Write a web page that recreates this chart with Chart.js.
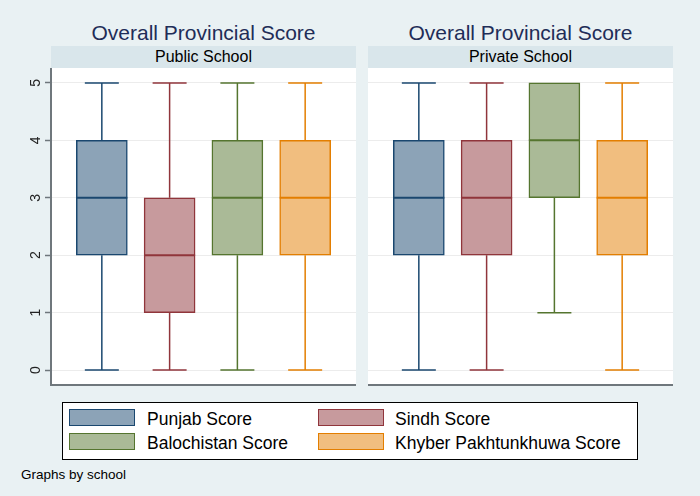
<!DOCTYPE html>
<html>
<head>
<meta charset="utf-8">
<script src="https://cdn.jsdelivr.net/npm/chart.js@4/dist/chart.umd.min.js"></script>
<style>
  html, body { margin: 0; padding: 0; }
  body { width: 700px; height: 496px; background: #e9f1f3; position: relative; overflow: hidden;
         font-family: "Liberation Sans", Arial, sans-serif; }
  .title { position: absolute; top: 22px; width: 305px; text-align: center; font-size: 21px;
           line-height: 21px; color: #1f2d58; white-space: nowrap; }
  .strip { position: absolute; top: 46px; width: 305px; height: 22px; background: #d9e6eb;
           text-align: center; font-size: 16px; line-height: 22px; color: #000; }
  canvas { position: absolute; top: 68px; }
  #legend { position: absolute; left: 62px; top: 402px; width: 574px; height: 56px;
            background: #fff; border: 1px solid #000; }
  .sw { position: absolute; width: 64px; height: 15px; border: 1.5px solid; }
  .lt { position: absolute; font-size: 17.5px; line-height: 20px; color: #000; white-space: nowrap; }
  #note { position: absolute; left: 21px; top: 468px; font-size: 13.5px; line-height: 14px; color: #000; }
</style>
</head>
<body>
<div class="title" style="left:51px">Overall Provincial Score</div>
<div class="title" style="left:368px">Overall Provincial Score</div>
<div class="strip" style="left:51px">Public School</div>
<div class="strip" style="left:368px">Private School</div>
<canvas id="pub" width="356" height="321" style="left:0px"></canvas>
<canvas id="priv" width="305" height="321" style="left:368px"></canvas>
<div id="legend"></div>
<div id="note">Graphs by school</div>
<script>
"use strict";

// ── Data ──────────────────────────────────────────────────────────────
const provinces = ['Punjab Score', 'Sindh Score', 'Balochistan Score', 'Khyber Pakhtunkhuwa Score'];
const yTicks = [0, 1, 2, 3, 4, 5];

// public school: min, q1, median, q3, max per province
const pubMin = [0, 0, 0, 0];
const pubQ1  = [2, 1, 2, 2];
const pubMed = [3, 2, 3, 3];
const pubQ3  = [4, 3, 4, 4];
const pubMax = [5, 5, 5, 5];

// private school
const privMin = [0, 0, 1, 0];
const privQ1  = [2, 2, 3, 2];
const privMed = [3, 3, 4, 3];
const privQ3  = [4, 4, 5, 4];
const privMax = [5, 5, 5, 5];

const lineColors = ['#1a476f', '#90353b', '#55752f', '#e37e00'];
const fillColors = ['#8ca3b7', '#c79a9d', '#aaba97', '#f1be7f'];

// ── Helpers ───────────────────────────────────────────────────────────
const whiskerPlugin = {
  id: 'whiskers',
  beforeDraw(chart) {
    const { ctx, chartArea: a } = chart;
    ctx.save();
    ctx.fillStyle = '#ffffff';
    ctx.fillRect(a.left, a.top, a.right - a.left, a.bottom - a.top);
    ctx.restore();
  },
  beforeDatasetsDraw(chart) {
    const { ctx, scales: { x, y } } = chart;
    const s = chart.options.plugins.whiskers;
    ctx.save();
    ctx.lineWidth = 1.5;
    s.min.forEach((mn, i) => {
      const cx = x.getPixelForValue(i + 1);
      const half = 17;
      ctx.strokeStyle = lineColors[i];
      [[s.q3[i], s.max[i]], [s.q1[i], mn]].forEach(([from, to]) => {
        if (from === to) return;
        const y0 = y.getPixelForValue(from), y1 = y.getPixelForValue(to);
        ctx.beginPath(); ctx.moveTo(cx, y0); ctx.lineTo(cx, y1); ctx.stroke();
        ctx.beginPath(); ctx.moveTo(cx - half, y1); ctx.lineTo(cx + half, y1); ctx.stroke();
      });
    });
    ctx.restore();
  },
  afterDatasetsDraw(chart) {
    const { ctx, scales: { x, y } } = chart;
    const s = chart.options.plugins.whiskers;
    ctx.save();
    ctx.lineWidth = 2;
    s.med.forEach((m, i) => {
      const cx = x.getPixelForValue(i + 1);
      const half = 25.5;
      const ym = y.getPixelForValue(m);
      ctx.strokeStyle = lineColors[i];
      ctx.beginPath(); ctx.moveTo(cx - half, ym); ctx.lineTo(cx + half, ym); ctx.stroke();
    });
    // rotated y tick labels (left panel only)
    if (s.labels) {
      ctx.fillStyle = '#222';
      ctx.font = '14px "Liberation Sans", Arial, sans-serif';
      ctx.textAlign = 'center';
      ctx.textBaseline = 'middle';
      yTicks.forEach(v => {
        ctx.save();
        ctx.translate(35, y.getPixelForValue(v));
        ctx.rotate(-Math.PI / 2);
        ctx.fillText(String(v), 0, 1);
        ctx.restore();
      });
    }
    ctx.restore();
  }
};

function makePanel(id, mins, q1s, meds, q3s, maxs, withAxis) {
  const ctx = document.getElementById(id).getContext('2d');
  return new Chart(ctx, {
    type: 'bar',
    data: {
      datasets: [{
        data: q1s.map((q, i) => ({ x: i + 1, y: [q, q3s[i]] })),
        backgroundColor: fillColors,
        borderColor: lineColors,
        borderWidth: 1.5,
        borderSkipped: false,
        barThickness: 51,
        grouped: false
      }]
    },
    options: {
      responsive: false,
      animation: false,
      layout: { padding: 0 },
      plugins: {
        legend: { display: false },
        tooltip: { enabled: false },
        whiskers: { min: mins, q1: q1s, med: meds, q3: q3s, max: maxs, labels: withAxis }
      },
      scales: {
        x: {
          type: 'linear', min: 0.25, max: 4.75, offset: false,
          ticks: { display: false },
          grid: { display: false, offset: false },
          border: { display: true, color: '#6f777c', width: 2 },
          afterFit: sc => { sc.height = 4; }
        },
        y: {
          min: -0.26, max: 5.26,
          afterBuildTicks: sc => { sc.ticks = yTicks.map(v => ({ value: v })); },
          ticks: { display: false },
          grid: { color: '#ececec', lineWidth: 1, drawTicks: withAxis, tickLength: 6, tickColor: '#6f777c', tickWidth: 1.5 },
          border: { display: withAxis, color: '#6f777c', width: 2 },
          afterFit: sc => { sc.width = withAxis ? 51 : 0; }
        }
      }
    },
    plugins: [whiskerPlugin]
  });
}

makePanel('pub', pubMin, pubQ1, pubMed, pubQ3, pubMax, true);
makePanel('priv', privMin, privQ1, privMed, privQ3, privMax, false);

// ── Legend ────────────────────────────────────────────────────────────
const legend = document.getElementById('legend');
const swLeft = [6, 255], txtLeft = [84, 332], rowTop = [6, 30];
provinces.forEach((name, i) => {
  const col = i % 2, row = Math.floor(i / 2);
  const sw = document.createElement('div');
  sw.className = 'sw';
  sw.style.left = swLeft[col] + 'px';
  sw.style.top = rowTop[row] + 'px';
  sw.style.background = fillColors[i];
  sw.style.borderColor = lineColors[i];
  legend.appendChild(sw);
  const t = document.createElement('div');
  t.className = 'lt';
  t.textContent = name;
  t.style.left = txtLeft[col] + 'px';
  t.style.top = (rowTop[row] - 0.5) + 'px';
  legend.appendChild(t);
});
</script>
</body>
</html>
